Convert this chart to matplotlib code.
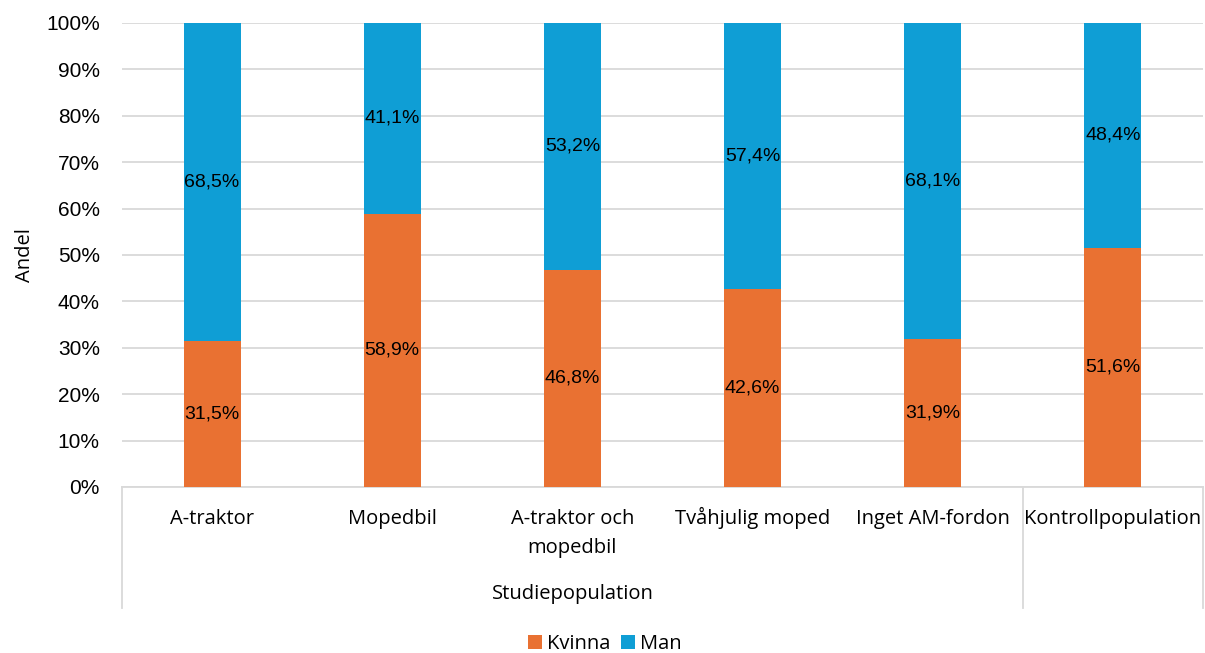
import matplotlib
matplotlib.use('Agg')

import numpy as np
import matplotlib.pyplot as plt
from matplotlib.lines import Line2D

# --- data ---
categories = ['A-traktor', 'Mopedbil', 'A-traktor och\nmopedbil',
              'Tvåhjulig moped', 'Inget AM-fordon', 'Kontrollpopulation']
kvinna = [31.5, 58.9, 46.8, 42.6, 31.9, 51.6]
man = [68.5, 41.1, 53.2, 57.4, 68.1, 48.4]
group_label = 'Studiepopulation'
group_size = 5  # first five categories belong to the group

# --- style ---
COLOR_KVINNA = '#E97132'
COLOR_MAN = '#0F9ED5'
GRID = '#D9D9D9'
FONT = ['Liberation Sans', 'DejaVu Sans']
CAT_FONT = ['Open Sans', 'DejaVu Sans']

W, H = 1205, 653
fig = plt.figure(figsize=(W / 100, H / 100), dpi=100)
ax = fig.add_axes([122 / W, 1 - 487 / H, (1203 - 122) / W, (487 - 23) / H])

x = np.arange(len(categories))
width = 0.316
ax.bar(x, kvinna, width=width, color=COLOR_KVINNA, label='Kvinna', zorder=2)
ax.bar(x, man, width=width, bottom=kvinna, color=COLOR_MAN, label='Man', zorder=2)

def fmt(v):
    return f'{v:.1f}%'.replace('.', ',')

for xi, k, m in zip(x, kvinna, man):
    ax.text(xi, k / 2, fmt(k), ha='center', va='center', fontsize=14,
            family=FONT, color='black', zorder=3)
    ax.text(xi, k + m / 2, fmt(m), ha='center', va='center', fontsize=14,
            family=FONT, color='black', zorder=3)

ax.set_xlim(-0.5, len(categories) - 0.5)
ax.set_ylim(0, 100)
ax.set_yticks(np.arange(0, 101, 10))
ax.set_yticklabels([f'{t}%' for t in range(0, 101, 10)], family=FONT, fontsize=15)
ax.tick_params(axis='y', length=0, pad=16)
ax.set_xticks([])
ax.grid(axis='y', color=GRID, linewidth=1.3, zorder=0)
for s in ['top', 'right', 'left']:
    ax.spines[s].set_visible(False)
ax.spines['bottom'].set_color(GRID)
ax.spines['bottom'].set_linewidth(1.3)
ax.spines['bottom'].set_zorder(1)

ax.set_ylabel('Andel', family=CAT_FONT, fontsize=14.5, labelpad=8)

# category labels below the axis, one baseline per line
trans = ax.get_xaxis_transform()
line_step = 29 / 464
for xi, c in zip(x, categories):
    for i, part in enumerate(c.split('\n')):
        ax.text(xi, -0.08 - i * line_step, part, transform=trans, ha='center',
                va='baseline', fontsize=14.5, family=CAT_FONT)

# group label and separators
ax.text((group_size - 1) / 2, -0.23, group_label, transform=trans,
        ha='center', va='center', fontsize=14.5, family=CAT_FONT)
for xs in [-0.5, group_size - 0.5, len(categories) - 0.5]:
    ax.add_line(Line2D([xs, xs], [0, -0.261], transform=trans, color=GRID,
                       linewidth=1.3, clip_on=False))

leg = fig.legend(loc='center', bbox_to_anchor=(605 / W, 1 - 644 / H), ncol=2,
                 frameon=False, handlelength=0.7, handleheight=0.7,
                 handletextpad=0.25, columnspacing=0.5,
                 prop={'family': CAT_FONT, 'size': 14.5})

fig.savefig('out.png', dpi=100)
